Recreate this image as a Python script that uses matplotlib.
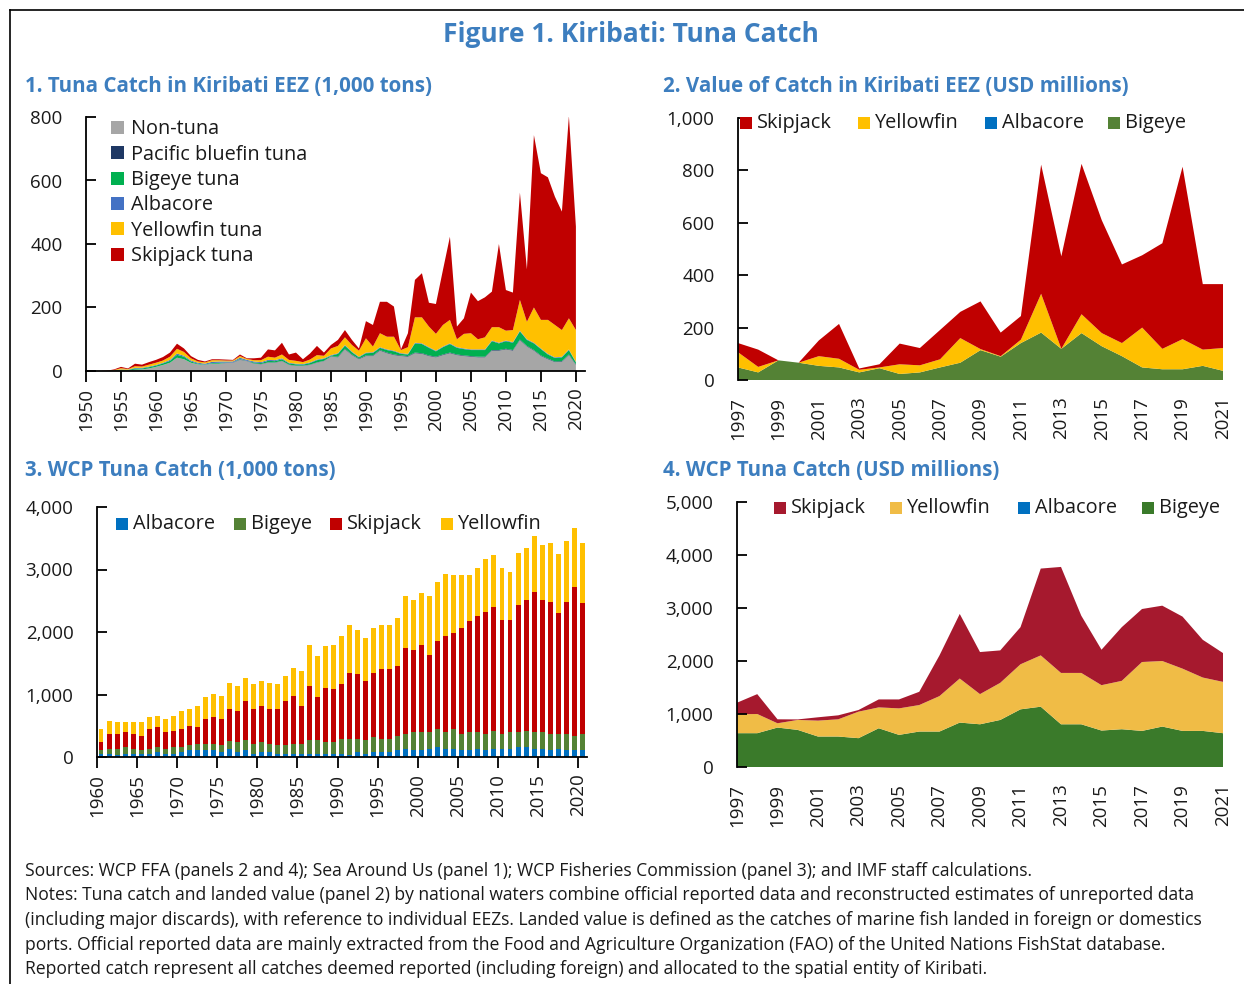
import matplotlib
matplotlib.use("Agg")
import matplotlib.pyplot as plt
from matplotlib.patches import Patch
from matplotlib.lines import Line2D
import numpy as np

plt.rcParams['font.family'] = ['Open Sans', 'DejaVu Sans']

# ---------------- Panel 1 data: Tuna catch in Kiribati EEZ (1,000 tons), 1950-2020
p1_years = list(range(1950, 2021))
p1_nontuna = [0, 0, 0, 0, 1, 2, 2, 4, 5, 8,
              13, 19, 26, 42, 37, 26, 21, 19, 23, 23,
              25, 26, 35, 31, 23, 21, 26, 26, 31, 19,
              16, 16, 19, 26, 31, 45, 43, 68, 50, 37,
              47, 47, 64, 56, 50, 47, 45, 56, 54, 47,
              43, 50, 56, 50, 47, 45, 43, 43, 64, 64,
              68, 64, 97, 77, 64, 47, 37, 28, 29, 50,
              19]
p1_bluefin = [0] * 20 + [1] * 16 + [2] * 35
p1_bigeye = [0, 0, 0, 0, 1, 2, 1, 4, 3, 4,
             4, 5, 6, 9, 8, 4, 2, 1, 2, 3,
             1, 0, 2, 0, 3, 3, 5, 4, 5, 4,
             4, 3, 5, 7, 6, 2, 9, 10, 7, 4,
             7, 8, 7, 8, 10, 5, 5, 29, 29, 24,
             17, 23, 27, 21, 20, 19, 21, 21, 28, 21,
             24, 23, 26, 19, 21, 20, 13, 11, 12, 14,
             6]
p1_albacore = [0, 0, 0, 0, 0, 1, 1, 2, 2, 2,
               2, 2, 3, 4, 3, 3, 3, 3, 4, 4,
               3, 3, 4, 3, 3, 3, 3, 3, 3, 2,
               2, 2, 2, 2, 2, 2, 2, 2, 2, 2,
               2, 2, 2, 2, 2, 2, 2, 2, 2, 2,
               2, 2, 2, 2, 2, 2, 2, 2, 2, 2,
               2, 2, 2, 2, 2, 2, 2, 2, 2, 2,
               2]
p1_yellowfin = [0, 0, 0, 0, 1, 4, 2, 5, 4, 6,
                7, 7, 10, 15, 12, 7, 4, 4, 5, 4,
                3, 3, 5, 3, 4, 6, 10, 8, 12, 9,
                9, 6, 9, 14, 8, 21, 23, 24, 21, 19,
                45, 18, 44, 40, 44, 10, 21, 80, 82, 65,
                53, 68, 74, 25, 46, 51, 32, 38, 42, 49,
                31, 38, 97, 55, 111, 90, 107, 102, 84, 98,
                100]
p1_skipjack = [0, 0, 0, 1, 2, 4, 2, 8, 6, 8,
               9, 11, 13, 16, 11, 7, 5, 3, 3, 3,
               3, 2, 5, 2, 6, 8, 23, 23, 37, 17,
               26, 9, 19, 29, 10, 11, 19, 23, 16, 7,
               54, 68, 99, 110, 95, 2, 44, 118, 139, 75,
               94, 173, 262, 40, 49, 128, 120, 126, 112, 262,
               128, 118, 338, 165, 543, 462, 449, 404, 373, 637,
               326]

# ---------------- Panel 2 data: Value of catch in Kiribati EEZ (USD millions), 1997-2021
p2_years = list(range(1997, 2022))
p2_bigeye = [48, 29, 75, 66, 54, 48, 29, 45, 23, 29, 48, 66, 114, 89, 141, 181,
             119, 179, 129, 91, 48, 41, 41, 54, 35]
p2_albacore = [0] * 25
p2_yellowfin = [58, 21, 0, 0, 37, 33, 10, 3, 37, 27, 31, 94, 4, 2, 13, 148,
                0, 72, 50, 50, 152, 78, 115, 62, 87]
p2_skipjack = [35, 66, 0, 0, 60, 133, 5, 12, 79, 66, 112, 100, 182, 90, 90, 493,
               353, 574, 431, 300, 276, 403, 658, 250, 244]

# ---------------- Panel 3 data: WCP tuna catch (1,000 tons), 1960-2020
p3_years = list(range(1960, 2021))
p3_albacore = [53, 53, 26, 53, 53, 53, 53, 79, 53, 53,
               79, 106, 106, 106, 106, 79, 132, 79, 106, 53,
               79, 79, 53, 53, 53, 53, 53, 53, 53, 53,
               53, 26, 79, 53, 79, 79, 79, 106, 132, 106,
               106, 132, 159, 132, 132, 106, 106, 132, 106, 132,
               132, 132, 159, 159, 132, 132, 106, 132, 106, 106,
               106]
p3_bigeye = [53, 79, 106, 106, 79, 53, 79, 79, 79, 106,
             79, 79, 106, 106, 106, 106, 132, 159, 159, 159,
             159, 132, 132, 132, 159, 159, 212, 212, 185, 185,
             238, 265, 212, 212, 238, 212, 212, 238, 238, 291,
             291, 265, 291, 265, 317, 265, 291, 265, 265, 291,
             238, 265, 238, 265, 265, 265, 265, 238, 265, 238,
             265]
p3_skipjack = [132, 238, 238, 238, 238, 238, 317, 317, 265, 265,
               291, 317, 265, 397, 423, 423, 503, 503, 635, 555,
               582, 555, 582, 714, 767, 608, 873, 688, 873, 846,
               873, 1058, 1032, 952, 1032, 1111, 1111, 1111, 1375, 1323,
               1402, 1243, 1402, 1534, 1534, 1693, 1772, 1852, 1957, 1984,
               1825, 1799, 2037, 2090, 2248, 2116, 2116, 1931, 2116, 2381,
               2090]
p3_yellowfin = [212, 212, 185, 159, 185, 212, 185, 185, 212, 238,
                291, 265, 344, 344, 370, 370, 423, 397, 370, 397,
                397, 423, 397, 397, 450, 555, 661, 661, 661, 714,
                767, 767, 714, 688, 714, 714, 714, 767, 836, 794,
                820, 942, 952, 1005, 926, 846, 741, 783, 836, 820,
                836, 767, 836, 836, 899, 873, 942, 952, 968, 942,
                968]

# ---------------- Panel 4 data: WCP tuna catch (USD millions), 1997-2021
p4_years = list(range(1997, 2022))
p4_bigeye = [638, 638, 744, 700, 575, 575, 544, 731, 606, 669, 669, 838, 806,
             888, 1088, 1138, 806, 806, 688, 713, 681, 763, 681, 681, 638]
p4_albacore = [0] * 25
p4_yellowfin = [356, 362, 81, 188, 300, 325, 500, 394, 500, 500, 669, 831, 569,
                700, 850, 968, 969, 969, 856, 912, 1300, 1237, 1175, 1007, 968]
p4_skipjack = [219, 375, 75, 10, 63, 75, 31, 150, 169, 250, 768, 1219, 794,
               612, 700, 1638, 2000, 1081, 669, 1013, 1000, 1044, 982, 712, 544]

# ---------------- labels
fig_title = "Figure 1. Kiribati: Tuna Catch"
panel_titles = ["1. Tuna Catch in Kiribati EEZ (1,000 tons)",
                "2. Value of Catch in Kiribati EEZ (USD millions)",
                "3. WCP Tuna Catch (1,000 tons)",
                "4. WCP Tuna Catch (USD millions)"]
notes = [
    "Sources: WCP FFA (panels 2 and 4); Sea Around Us (panel 1); WCP Fisheries Commission (panel 3); and IMF staff calculations.",
    "Notes: Tuna catch and landed value (panel 2) by national waters combine official reported data and reconstructed estimates of unreported data",
    "(including major discards), with reference to individual EEZs. Landed value is defined as the catches of marine fish landed in foreign or domestics",
    "ports. Official reported data are mainly extracted from the Food and Agriculture Organization (FAO) of the United Nations FishStat database.",
    "Reported catch represent all catches deemed reported (including foreign) and allocated to the spatial entity of Kiribati.",
]

W, H = 1244, 984
fig = plt.figure(figsize=(W / 100, H / 100), dpi=100)
TITLE_C = '#3d7ebf'
TXT = '#1a1a1a'
TICK_FS = 13.5
LEG_FS = 14.3


def box(x0, y0, x1, y1):
    return [x0 / W, 1 - y1 / H, (x1 - x0) / W, (y1 - y0) / H]


def fx(x):
    return x / W


def fy(y):
    return 1 - y / H


def style_axes(ax, bottom_spine=True):
    for s in ['top', 'right']:
        ax.spines[s].set_visible(False)
    ax.spines['left'].set_linewidth(1.3)
    ax.spines['bottom'].set_linewidth(1.3)
    if not bottom_spine:
        ax.spines['bottom'].set_visible(False)
    ax.tick_params(axis='y', direction='in', length=7, width=1.3, labelsize=TICK_FS,
                   labelcolor=TXT, pad=17)
    ax.tick_params(axis='x', labelsize=TICK_FS, labelcolor=TXT, labelrotation=90)


def row_legend(ax, handles, labels, x_px, y_px, fs):
    """Single-row legend; x_px are the left edges of each square (figure pixels)."""
    for h, lab, x in zip(handles, labels, x_px):
        fig.patches.append(plt.Rectangle((fx(x), fy(y_px + 6)), 12 / W, 12 / H,
                                         transform=fig.transFigure, facecolor=h,
                                         edgecolor='none'))
        fig.text(fx(x + 17), fy(y_px), lab, ha='left', va='center', fontsize=fs,
                 color=TXT)


# frame
fig.add_artist(Line2D([fx(10), fx(1250)], [fy(10), fy(10)], color='black', lw=1.2,
                      transform=fig.transFigure))
fig.add_artist(Line2D([fx(10), fx(10)], [fy(10), fy(1000)], color='black', lw=1.2,
                      transform=fig.transFigure))

fig.text(fx(631), fy(34), fig_title, ha='center', va='center', fontsize=19,
         fontweight='bold', color=TITLE_C)
for (tx, ty), t in zip([(25, 86), (663, 86), (25, 471), (663, 471)], panel_titles):
    fig.text(fx(tx), fy(ty), t, ha='left', va='center', fontsize=14.8,
             fontweight='bold', color=TITLE_C)

# ---------------- Panel 1
ax1 = fig.add_axes(box(86, 117, 585, 371))
c1 = ['#a6a6a6', '#1f3864', '#00b050', '#4472c4', '#ffc000', '#c00000']
lab1 = ['Non-tuna', 'Pacific bluefin tuna', 'Bigeye tuna', 'Albacore', 'Yellowfin tuna', 'Skipjack tuna']
ax1.stackplot(p1_years, p1_nontuna, p1_bluefin, p1_bigeye, p1_albacore, p1_yellowfin,
              p1_skipjack, colors=c1, linewidth=0, edgecolor='none')
ax1.set_xlim(1950, 2021.3)
ax1.set_ylim(0, 800)
ax1.set_yticks([0, 200, 400, 600, 800])
ax1.set_xticks(list(range(1950, 2021, 5)))
style_axes(ax1)
ax1.tick_params(axis='x', direction='out', length=8, width=1.3, pad=4)
h1 = [Patch(facecolor=c, edgecolor='none') for c in c1]
ax1.legend(h1, lab1, loc='upper left', bbox_to_anchor=(0.035, 1.022), frameon=False,
           fontsize=LEG_FS, handlelength=0.62, handleheight=0.62, handletextpad=0.35,
           labelspacing=0.27, borderaxespad=0, labelcolor=TXT)

# ---------------- Panel 2
ax2 = fig.add_axes(box(738, 118, 1223, 380))
c2 = ['#548235', '#0070c0', '#ffc000', '#c00000']
ax2.stackplot(p2_years, p2_bigeye, p2_albacore, p2_yellowfin, p2_skipjack, colors=c2,
              linewidth=0, edgecolor='none')
ax2.set_xlim(1997, 2021)
ax2.set_ylim(0, 1000)
ax2.set_yticks(range(0, 1001, 200))
ax2.set_yticklabels([f"{v:,}" for v in range(0, 1001, 200)])
ax2.set_xticks(list(range(1997, 2022, 2)))
style_axes(ax2, bottom_spine=False)
ax2.tick_params(axis='x', length=0, pad=12)
row_legend(ax2, ['#c00000', '#ffc000', '#0070c0', '#548235'],
           ['Skipjack', 'Yellowfin', 'Albacore', 'Bigeye'], [740, 858, 985, 1108], 123, LEG_FS)

# ---------------- Panel 3
ax3 = fig.add_axes(box(97, 507, 587, 757))
c3 = ['#0070c0', '#548235', '#c00000', '#ffc000']
bw = 0.62
b0 = np.zeros(len(p3_years))
for vals, col in zip([p3_albacore, p3_bigeye, p3_skipjack, p3_yellowfin], c3):
    ax3.bar(p3_years, vals, bottom=b0, width=bw, color=col, linewidth=0)
    b0 = b0 + np.array(vals)
ax3.set_xlim(1959.5, 2020.6)
ax3.set_ylim(0, 4000)
ax3.set_yticks(range(0, 4001, 1000))
ax3.set_yticklabels([f"{v:,}" for v in range(0, 4001, 1000)])
ax3.set_xticks([y - 0.5 for y in range(1960, 2021, 5)])
ax3.set_xticklabels([str(y) for y in range(1960, 2021, 5)])
style_axes(ax3)
ax3.tick_params(axis='x', direction='out', length=8, width=1.3, pad=4)
row_legend(ax3, c3, ['Albacore', 'Bigeye', 'Skipjack', 'Yellowfin'],
           [116, 234, 330, 441], 524, LEG_FS)

# ---------------- Panel 4
ax4 = fig.add_axes(box(737, 502, 1223, 767))
c4 = ['#3a7a2a', '#0070c0', '#f0bc46', '#a6192e']
ax4.stackplot(p4_years, p4_bigeye, p4_albacore, p4_yellowfin, p4_skipjack, colors=c4,
              linewidth=0, edgecolor='none')
ax4.set_xlim(1997, 2021)
ax4.set_ylim(0, 5000)
ax4.set_yticks(range(0, 5001, 1000))
ax4.set_yticklabels([f"{v:,}" for v in range(0, 5001, 1000)])
ax4.set_xticks(list(range(1997, 2022, 2)))
style_axes(ax4, bottom_spine=False)
ax4.tick_params(axis='x', length=0, pad=12)
row_legend(ax4, ['#a6192e', '#f0bc46', '#0070c0', '#3a7a2a'],
           ['Skipjack', 'Yellowfin', 'Albacore', 'Bigeye'], [774, 890, 1018, 1142], 508, LEG_FS)

# ---------------- notes
for i, line in enumerate(notes):
    fig.text(fx(25), fy(871 + 24.5 * i), line, ha='left', va='center', fontsize=12.65,
             color=TXT)

fig.savefig('out.png', dpi=100)
